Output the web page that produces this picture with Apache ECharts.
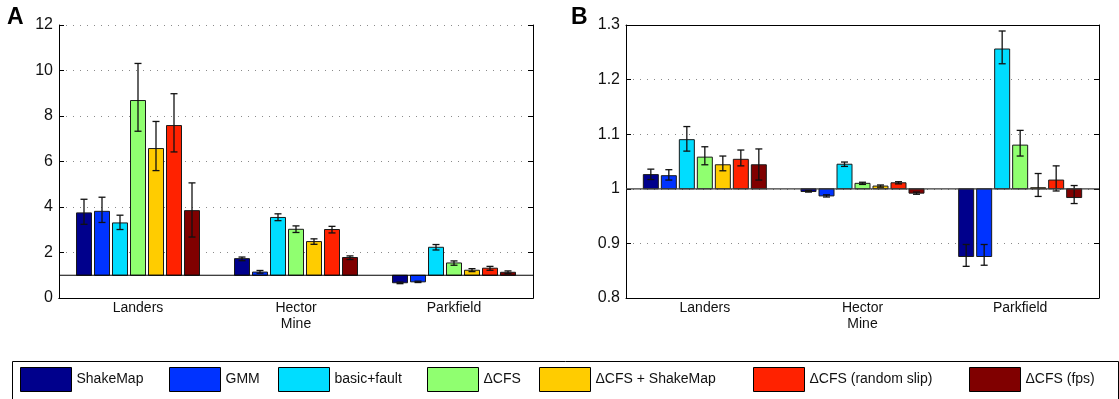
<!DOCTYPE html>
<html>
<head>
<meta charset="utf-8">
<script src="https://cdn.jsdelivr.net/npm/echarts@6/dist/echarts.min.js"></script>
<style>
  html, body { margin: 0; padding: 0; background: #fff; }
  #chart { width: 1119px; height: 399px; }
</style>
</head>
<body>
<div id="chart"></div>
<script>
// Earthquakes (x categories) and forecast models (bar series)
const events = ['Landers', 'Hector\nMine', 'Parkfield'];
const models = ['ShakeMap', 'GMM', 'basic+fault', '\u0394CFS', '\u0394CFS + ShakeMap', '\u0394CFS (random slip)', '\u0394CFS (fps)'];
const colors = ['#00008C', '#0033FF', '#00DDFF', '#90FF70', '#FFCC00', '#FF2200', '#800000'];

// Value-axis tick labels of the two panels
const yTicksA = [0, 2, 4, 6, 8, 10, 12];
const yTicksB = [0.8, 0.9, 1.0, 1.1, 1.2, 1.3];

// Reference level the bars grow from
const reference = 1;

// Panel A: one row per model, columns follow `events`
const valuesA = [
  [3.74, 1.73, 0.67],
  [3.81, 1.14, 0.71],
  [3.30, 3.54, 2.23],
  [8.68, 3.02, 1.54],
  [6.57, 2.48, 1.22],
  [7.58, 3.01, 1.31],
  [3.84, 1.78, 1.13]
];
const lowA = [
  [3.24, 1.64, 0.63],
  [3.32, 1.09, 0.68],
  [3.01, 3.40, 2.11],
  [7.33, 2.88, 1.44],
  [5.60, 2.36, 1.16],
  [6.42, 2.86, 1.22],
  [2.68, 1.69, 1.07]
];
const highA = [
  [4.34, 1.80, 0.70],
  [4.43, 1.21, 0.74],
  [3.64, 3.70, 2.35],
  [10.31, 3.17, 1.63],
  [7.76, 2.60, 1.29],
  [8.98, 3.15, 1.39],
  [5.06, 1.85, 1.19]
];

// Panel B
const valuesB = [
  [1.026, 0.995, 0.876],
  [1.024, 0.987, 0.876],
  [1.090, 1.045, 1.256],
  [1.058, 1.010, 1.080],
  [1.044, 1.005, 1.002],
  [1.054, 1.011, 1.016],
  [1.044, 0.992, 0.984]
];
const lowB = [
  [1.017, 0.994, 0.858],
  [1.016, 0.985, 0.860],
  [1.069, 1.041, 1.229],
  [1.044, 1.008, 1.060],
  [1.033, 1.003, 0.986],
  [1.042, 1.009, 0.996],
  [1.016, 0.990, 0.973]
];
const highB = [
  [1.036, 0.997, 0.898],
  [1.035, 0.989, 0.898],
  [1.114, 1.049, 1.289],
  [1.077, 1.012, 1.107],
  [1.060, 1.007, 1.028],
  [1.071, 1.013, 1.042],
  [1.073, 0.994, 1.006]
];

const FONT = '"Liberation Sans", Arial, Helvetica, sans-serif';
const BAR_W = 15;
const BAR_STEP = 18;
const CAP = 3.5;

function tickStep(t) { return +(t[1] - t[0]).toFixed(6); }

function panelAxes(panel, ticks, gridIndex) {
  const x = [
    {
      type: 'category', gridIndex, data: events, position: 'bottom',
      axisLine: { lineStyle: { color: '#000', width: 1 } },
      axisTick: { inside: true, alignWithLabel: true, length: 4, lineStyle: { color: '#000' } },
      axisLabel: { color: '#111', fontFamily: FONT, fontSize: 14, lineHeight: 16, margin: 2 },
      splitLine: { show: false }
    },
    {
      type: 'category', gridIndex, data: events, position: 'top',
      axisLine: { lineStyle: { color: '#000', width: 1 } },
      axisTick: { inside: true, alignWithLabel: true, length: 4, lineStyle: { color: '#000' } },
      axisLabel: { show: false },
      splitLine: { show: false }
    }
  ];
  const common = {
    type: 'value', gridIndex,
    min: ticks[0], max: ticks[ticks.length - 1], interval: tickStep(ticks)
  };
  const y = [
    Object.assign({}, common, {
      position: 'left',
      axisLine: { show: true, lineStyle: { color: '#000', width: 1 } },
      axisTick: { show: true, inside: true, length: 5, lineStyle: { color: '#000' } },
      axisLabel: { color: '#111', fontFamily: FONT, fontSize: 16, margin: 6 },
      splitLine: { show: true, lineStyle: { color: '#8a8a8a', width: 1, type: [1, 6] } }
    }),
    Object.assign({}, common, {
      position: 'right',
      axisLine: { show: true, lineStyle: { color: '#000', width: 1 } },
      axisTick: { show: true, inside: true, length: 5, lineStyle: { color: '#000' } },
      axisLabel: { show: false },
      splitLine: { show: false }
    })
  ];
  return { x, y };
}

function modelSeries(axisIndex, k, vals, lo, hi) {
  return {
    type: 'custom',
    name: models[k],
    xAxisIndex: axisIndex,
    yAxisIndex: axisIndex,
    itemStyle: { color: colors[k], borderColor: '#000', borderWidth: 1 },
    encode: { x: 0, y: 1 },
    data: events.map((e, i) => [i, vals[i], lo[i], hi[i]]),
    renderItem(params, api) {
      const i = api.value(0);
      const base = api.coord([i, reference]);
      const top = api.coord([i, api.value(1)]);
      const pLo = api.coord([i, api.value(2)]);
      const pHi = api.coord([i, api.value(3)]);
      const cx = base[0] + (k - 3) * BAR_STEP;
      const errStyle = { stroke: '#111', lineWidth: 1.3 };
      return {
        type: 'group',
        children: [
          {
            type: 'rect',
            shape: { x: cx - BAR_W / 2, y: Math.min(base[1], top[1]), width: BAR_W, height: Math.abs(top[1] - base[1]) },
            style: { fill: colors[k], stroke: '#1a1a1a', lineWidth: 1 }
          },
          { type: 'line', shape: { x1: cx, y1: pLo[1], x2: cx, y2: pHi[1] }, style: errStyle },
          { type: 'line', shape: { x1: cx - CAP, y1: pLo[1], x2: cx + CAP, y2: pLo[1] }, style: errStyle },
          { type: 'line', shape: { x1: cx - CAP, y1: pHi[1], x2: cx + CAP, y2: pHi[1] }, style: errStyle }
        ]
      };
    }
  };
}

function referenceLine(axisIndex, color) {
  return {
    type: 'custom',
    name: 'reference',
    xAxisIndex: axisIndex,
    yAxisIndex: axisIndex,
    silent: true,
    z: 5,
    data: [[0, reference]],
    encode: { x: 0, y: 1 },
    renderItem(params, api) {
      const cs = params.coordSys;
      const y = api.coord([0, reference])[1];
      return {
        type: 'line',
        shape: { x1: cs.x, y1: y, x2: cs.x + cs.width, y2: y },
        style: { stroke: color, lineWidth: 1.2 }
      };
    }
  };
}

const axA = panelAxes(0, yTicksA, 0);
const axB = panelAxes(1, yTicksB, 1);

const series = [];
models.forEach((m, k) => series.push(modelSeries(0, k, valuesA[k], lowA[k], highA[k])));
series.push(referenceLine(0, '#000'));
models.forEach((m, k) => series.push(modelSeries(2, k, valuesB[k], lowB[k], highB[k])));
series.push(referenceLine(2, '#3a3a3a'));

// One legend block per model, laid out in a single row
const legendLeft = [20, 169, 278, 427, 539, 753, 969];
const legends = models.map((m, k) => ({
  left: legendLeft[k],
  top: 367,
  padding: 0,
  orient: 'horizontal',
  icon: 'rect',
  itemWidth: 51,
  itemHeight: 24,
  selectedMode: false,
  itemStyle: { borderColor: '#000', borderWidth: 1 },
  textStyle: { color: '#111', fontFamily: FONT, fontSize: 14 },
  data: [{ name: m, itemStyle: { color: colors[k], borderColor: '#000', borderWidth: 1 } }]
}));

const option = {
  backgroundColor: '#fff',
  animation: false,
  textStyle: { fontFamily: FONT },
  grid: [
    { left: 59, top: 25, width: 474, height: 273, containLabel: false },
    { left: 626, top: 25, width: 473, height: 273, containLabel: false }
  ],
  xAxis: [axA.x[0], axA.x[1], axB.x[0], axB.x[1]],
  yAxis: [axA.y[0], axA.y[1], axB.y[0], axB.y[1]],
  legend: legends,
  graphic: [
    {
      type: 'rect', left: 10, top: 359, silent: true,
      shape: { width: 1106, height: 60 },
      style: { fill: 'none', stroke: '#000', lineWidth: 1 }
    },
    {
      type: 'text', left: 7, top: 6, silent: true,
      style: { text: 'A', font: 'bold 23px ' + FONT, fill: '#000' }
    },
    {
      type: 'text', left: 571, top: 6, silent: true,
      style: { text: 'B', font: 'bold 23px ' + FONT, fill: '#000' }
    }
  ],
  series
};

const chart = echarts.init(document.getElementById('chart'), null, { renderer: 'canvas' });
chart.setOption(option);
</script>
</body>
</html>
